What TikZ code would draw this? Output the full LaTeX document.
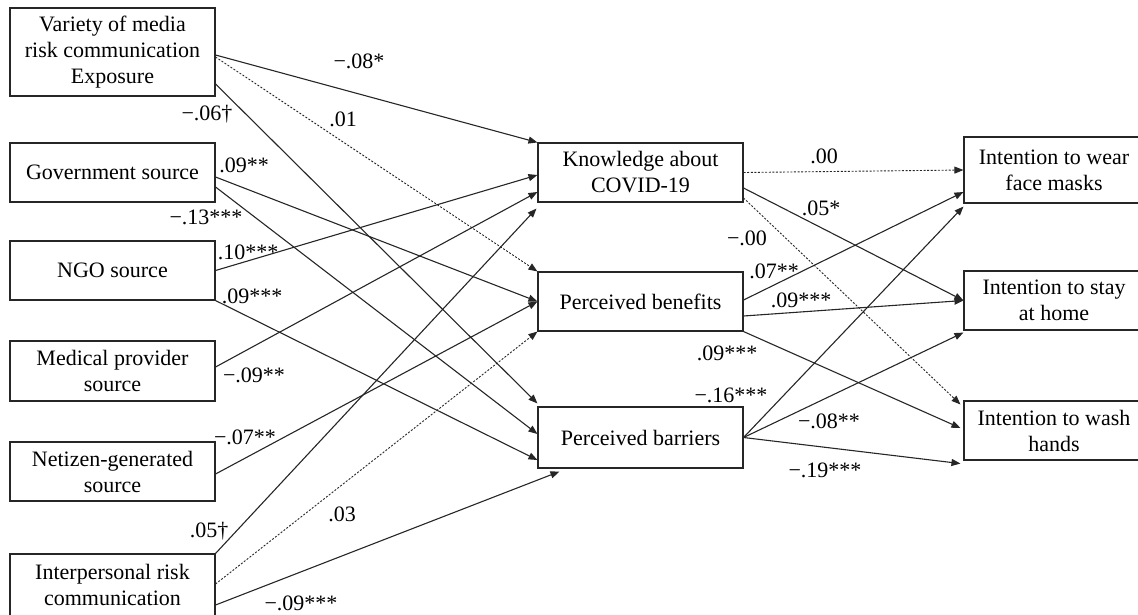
\documentclass[tikz,border=0pt]{standalone}
\usepackage{fontspec}
\setmainfont{Liberation Serif}
\usetikzlibrary{arrows.meta}
\begin{document}
\begin{tikzpicture}[x=1pt,y=-1pt,
  box/.style={draw=black!85,line width=1.1pt,rectangle,inner sep=0pt,align=center,
    minimum width=205pt,font=\fontsize{22}{26}\selectfont},
  lbl/.style={inner sep=0pt,font=\fontsize{22}{26}\selectfont},
  arr/.style={draw=black!85,line width=1.1pt,-{Triangle[length=9pt,width=7pt]}},
  dotarr/.style={arr,line width=0.9pt,dash pattern=on 2pt off 1.6pt},
]
\useasboundingbox (0,0) rectangle (1138,614);
\clip (0,0) rectangle (1138,614);
% left column
\node[box,minimum height=88pt] (var) at (112.5,52) {Variety of media\\risk communication\\Exposure};
\node[box,minimum height=59pt] (gov) at (112.5,172.5) {Government source};
\node[box,minimum height=59pt] (ngo) at (112.5,270.5) {NGO source};
\node[box,minimum height=60pt] (med) at (112.5,371) {Medical provider\\source};
\node[box,minimum height=59pt] (net) at (112.5,471.5) {Netizen-generated\\source};
\node[box,minimum height=62pt] (ipc) at (112.5,585) {Interpersonal risk\\communication};
% middle column
\node[box,minimum height=59pt] (know) at (640.5,172.5) {Knowledge about\\COVID-19};
\node[box,minimum height=59pt] (ben) at (640.5,301.5) {Perceived benefits};
\node[box,minimum height=61pt] (bar) at (640.5,437.5) {Perceived barriers};
% right column
\node[box,minimum width=180pt,minimum height=66pt] (fm) at (1054,170) {Intention to wear\\face masks};
\node[box,minimum width=180pt,minimum height=59pt] (home) at (1054,300.5) {Intention to stay\\at home};
\node[box,minimum width=180pt,minimum height=59pt] (wash) at (1054,430.5) {Intention to wash\\hands};

% left -> middle
\draw[arr] ([yshift=-3pt]var.east) -- (know.north west);
\draw[dotarr] ([yshift=-5pt]var.east) -- (ben.north west);
\draw[arr] ([yshift=-32pt]var.east) -- ([yshift=3pt]bar.north west);
\draw[arr] ([yshift=-4.5pt]gov.east) -- (ben.west);
\draw[arr] ([yshift=-14.5pt]gov.east) -- ([yshift=3.5pt]bar.west);
\draw[arr] (ngo.east) -- ([yshift=-2.5pt]know.west);
\draw[arr] (ngo.south east) -- ([yshift=-22.5pt]bar.west);
\draw[arr] ([yshift=4pt]med.east) -- ([yshift=-19.5pt]know.west);
\draw[arr] ([yshift=-2.5pt]net.east) -- (ben.west);
\draw[arr] (ipc.north east) -- ([xshift=-1pt,yshift=-6pt]know.south west);
\draw[dotarr] ([yshift=1pt]ipc.east) -- (ben.south west);
\draw[arr] ([yshift=-20pt]ipc.east) -- ([xshift=22pt,yshift=-3pt]bar.south west);

% middle -> right
\draw[dotarr] (know.east) -- (fm.west);
\draw[arr] ([yshift=-15.5pt]know.east) -- (home.west);
\draw[dotarr] ([yshift=-25.5pt]know.east) -- ([xshift=-3pt,yshift=-4pt]wash.north west);
\draw[arr] ([yshift=1.5pt]ben.east) -- ([yshift=-22pt]fm.west);
\draw[arr] ([yshift=-14.5pt]ben.east) -- (home.west);
\draw[arr] (ben.south east) -- ([xshift=-3pt,yshift=2.5pt]wash.west);
\draw[arr] (bar.east) -- ([yshift=-3pt]fm.south west);
\draw[arr] (bar.east) -- ([yshift=-2pt]home.south west);
\draw[arr] (bar.east) -- ([xshift=-3pt,yshift=-3pt]wash.south west);

% labels
\node[lbl] (l1) at (359,61) {−.08*};
\node[lbl] (l2) at (343,119) {.01};
\node[lbl] (l3) at (207,114) {−.06†};
\node[lbl] (l4) at (244,165) {.09**};
\node[lbl] (l5) at (206,217) {−.13***};
\node[lbl] (l6) at (248,252) {.10***};
\node[lbl] (l7) at (252,296) {.09***};
\node[lbl] (l8) at (254,375) {−.09**};
\node[lbl] (l9) at (245,437) {−.07**};
\node[lbl] (l10) at (209,531) {.05†};
\node[lbl] (l11) at (342,514) {.03};
\node[lbl] (l12) at (301,603) {−.09***};
\node[lbl] (l13) at (824,156) {.00};
\node[lbl] (l14) at (821,208) {.05*};
\node[lbl] (l15) at (747,238) {−.00};
\node[lbl] (l16) at (774,271) {.07**};
\node[lbl] (l17) at (801,300) {.09***};
\node[lbl] (l18) at (727,353) {.09***};
\node[lbl] (l19) at (731,395) {−.16***};
\node[lbl] (l20) at (829,421) {−.08**};
\node[lbl] (l21) at (825,470) {−.19***};
\end{tikzpicture}
\end{document}
